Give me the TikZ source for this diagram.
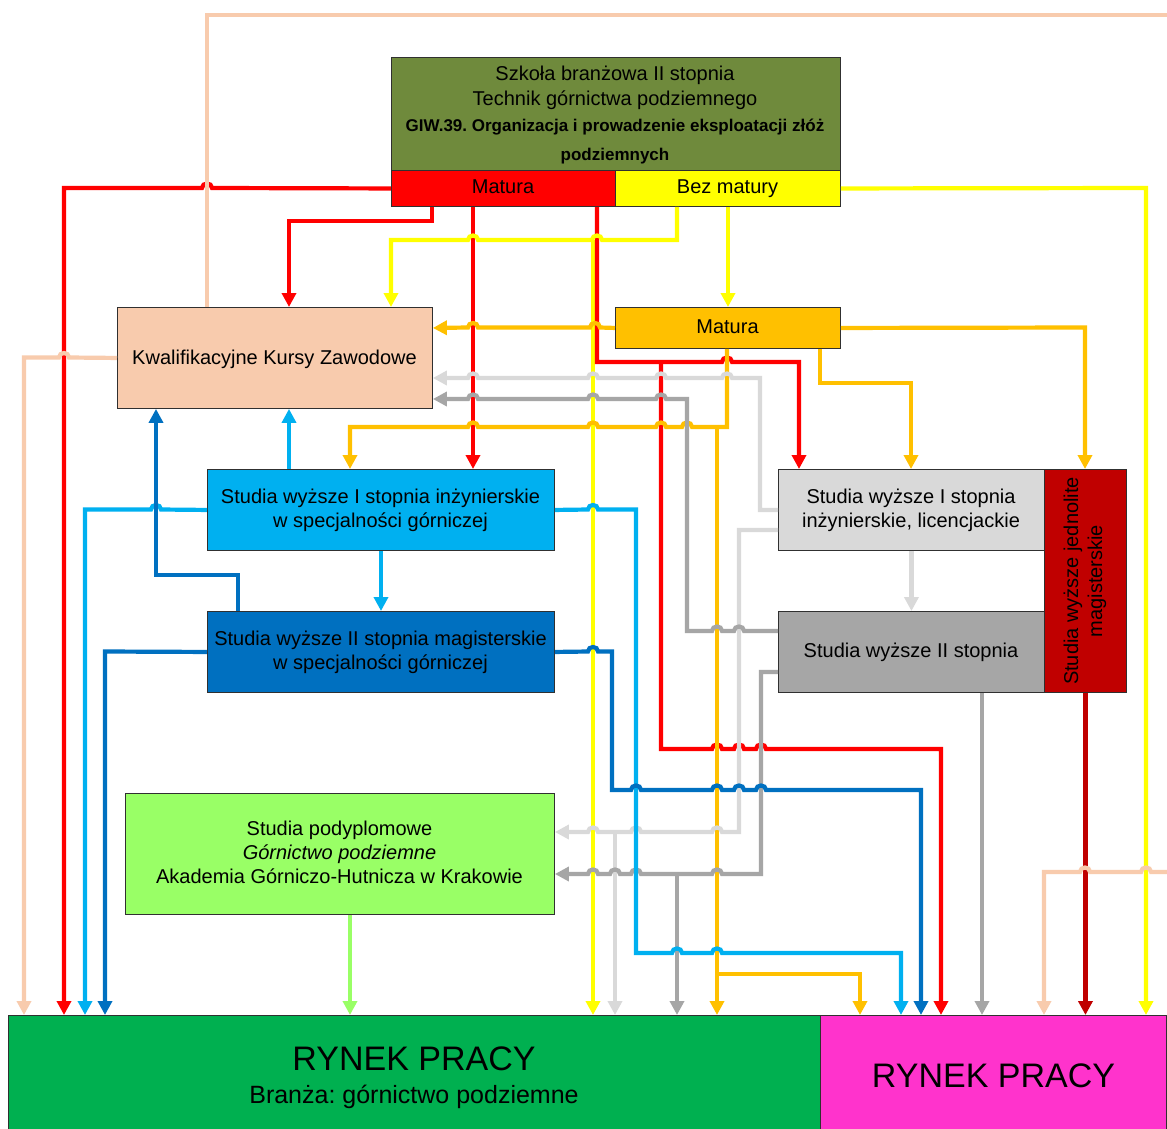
\documentclass[tikz,border=0pt]{standalone}
\usepackage{fontspec}
\setmainfont{Liberation Sans}
\usetikzlibrary{arrows.meta}
\frenchspacing
\definecolor{cOlive}{HTML}{6F8A3C}
\definecolor{cRed}{HTML}{FF0000}
\definecolor{cYel}{HTML}{FFFF00}
\definecolor{cOra}{HTML}{FFC000}
\definecolor{cPeach}{HTML}{F8CBAD}
\definecolor{cLB}{HTML}{00B0F0}
\definecolor{cDB}{HTML}{0070C0}
\definecolor{cLG}{HTML}{D9D9D9}
\definecolor{cG}{HTML}{A6A6A6}
\definecolor{cDR}{HTML}{C00000}
\definecolor{cLGr}{HTML}{99FF66}
\definecolor{cGr}{HTML}{00B050}
\definecolor{cMag}{HTML}{FF33CC}
\definecolor{cBord}{HTML}{303030}
\tikzset{
  box/.style={draw=cBord, line width=0.9pt, inner sep=0pt, anchor=north west},
  tx/.style={anchor=base, inner sep=0pt, font=\fontsize{20}{24}\selectfont},
  ln/.style={draw=#1, line width=4.2pt, -{Triangle[length=14pt,width=14pt]}},
  hl/.style 2 args={insert path={-- (#1+5,#2) .. controls (#1+5,#2-6) and (#1-5,#2-6) .. (#1-5,#2)}},
  hr/.style 2 args={insert path={-- (#1-5,#2) .. controls (#1-5,#2-6) and (#1+5,#2-6) .. (#1+5,#2)}},
}
\begin{document}
\frenchspacing
\begin{tikzpicture}[x=1pt,y=-1pt]
\useasboundingbox (0,0) rectangle (1167,1128);
\fill[white] (0,0) rectangle (1167,1128);
% boxes
\node[box,fill=cOlive,minimum width=449pt,minimum height=113pt] (szk) at (391,57) {};
\node[box,fill=cRed,minimum width=224pt,minimum height=36pt] (mat) at (391,170) {};
\node[box,fill=cYel,minimum width=225pt,minimum height=36pt] (bez) at (615,170) {};
\node[box,fill=cPeach,minimum width=315pt,minimum height=101pt] (kkz) at (117,307) {};
\node[box,fill=cOra,minimum width=225pt,minimum height=41pt] (mat2) at (615,307) {};
\node[box,fill=cLB,minimum width=347pt,minimum height=81pt] (s1g) at (207,469) {};
\node[box,fill=cDB,minimum width=347pt,minimum height=81pt] (s2g) at (207,611) {};
\node[box,fill=cLG,minimum width=266pt,minimum height=81pt] (s1l) at (778,469) {};
\node[box,fill=cG,minimum width=266pt,minimum height=81pt] (s2) at (778,611) {};
\node[box,fill=cDR,minimum width=82pt,minimum height=223pt] (jed) at (1044,469) {};
\node[box,fill=cLGr,minimum width=429pt,minimum height=121pt] (pod) at (125,793) {};
\node[box,fill=cGr,minimum width=812pt,minimum height=120pt] (ryn1) at (8,1015) {};
\node[box,fill=cMag,minimum width=346pt,minimum height=120pt] (ryn2) at (820,1015) {};
% yellow under red
\draw[ln=cYel] (593,240) -- (593,0 |- ryn1.north);
% red
\draw[ln=cRed] (mat.west) [hl={207}{188}] -- (64,188) -- (64,0 |- ryn1.north);
\draw[ln=cRed] (432,0 |- mat.south) -- (432,221) -- (289,221) -- (289,0 |- kkz.north);
\draw[ln=cRed] (473,0 |- mat.south) -- (473,0 |- s1g.north);
\draw[ln=cRed] (597,0 |- mat.south) -- (597,362) [hr={727}{362}] -- (799,362) -- (799,0 |- s1l.north);
\draw[ln=cRed] (661,362) -- (661,749) [hr={717}{749}] [hr={739}{749}] [hr={761}{749}] -- (941,749) -- (941,0 |- ryn2.north);
% yellow
\draw[ln=cYel] (bez.east) -- (1146,188) -- (1146,0 |- ryn2.north);
\draw[ln=cYel] (677,0 |- bez.south) -- (677,240) [hl={597}{240}] [hl={473}{240}] -- (391,240) -- (391,0 |- kkz.north);
\draw[ln=cYel] (728,0 |- bez.south) -- (728,0 |- mat2.north);
% orange
\draw[ln=cOra] (mat2.west) [hl={595}{327.5}] [hl={473}{327.5}] -- (kkz.east |- mat2.west);
\draw[ln=cOra] (mat2.east) -- (1085,327.5) -- (1085,0 |- jed.north);
\draw[ln=cOra] (820,0 |- mat2.south) -- (820,383) -- (911,383) -- (911,0 |- s1l.north);
\draw[ln=cOra] (727,0 |- mat2.south) -- (727,427) [hl={687}{427}] [hl={661}{427}] [hl={593}{427}] [hl={473}{427}] -- (350,427) -- (350,0 |- s1g.north);
\draw[ln=cOra] (717,427) -- (717,0 |- ryn1.north);
\draw[ln=cOra] (717,974) -- (860,974) -- (860,0 |- ryn2.north);
% light gray
\draw[ln=cLG] (s1l.west |- 0,510) -- (760,510) -- (760,378) [hl={727}{378}] [hl={661}{378}] [hl={593}{378}] [hl={473}{378}] -- (kkz.east |- 0,378);
\draw[ln=cLG] (s1l.west |- 0,530) -- (739,530) -- (739,832) [hl={717}{832}] [hl={636}{832}] [hl={593}{832}] -- (pod.east |- 0,832);
\draw[ln=cLG] (615,832) -- (615,0 |- ryn1.north);
\draw[ln=cLG] (s1l.south) -- (s2.north);
% gray
\draw[ln=cG] (s2.west |- 0,631) [hl={739}{631}] [hl={717}{631}] -- (687,631) -- (687,399) [hl={661}{399}] [hl={593}{399}] [hl={473}{399}] -- (kkz.east |- 0,399);
\draw[ln=cG] (s2.west |- 0,672) -- (761,672) -- (761,874) [hl={717}{874}] [hl={636}{874}] [hl={615}{874}] [hl={593}{874}] -- (pod.east |- 0,874);
\draw[ln=cG] (677,874) -- (677,0 |- ryn1.north);
\draw[ln=cG] (982,0 |- s2.south) -- (982,0 |- ryn2.north);
% dark red
\draw[ln=cDR] (jed.south) -- (jed.south |- ryn2.north);
% peach
\draw[ln=cPeach,-] (207,0 |- kkz.north) -- (207,15) -- (1170,15);
\draw[ln=cPeach] (kkz.west) [hl={64}{357.5}] -- (24,357.5) -- (24,0 |- ryn1.north);
\draw[ln=cPeach] (1170,872) [hl={1146}{872}] [hl={1085}{872}] -- (1044,872) -- (1044,0 |- ryn2.north);
% light blue
\draw[ln=cLB] (289,0 |- s1g.north) -- (289,0 |- kkz.south);
\draw[ln=cLB] (381,0 |- s1g.south) -- (381,0 |- s2g.north);
\draw[ln=cLB] (s1g.west) [hl={156}{509.5}] -- (85,509.5) -- (85,0 |- ryn1.north);
\draw[ln=cLB] (s1g.east) [hr={593}{509.5}] -- (636,509.5) -- (636,953) [hr={677}{953}] [hr={717}{953}] -- (901,953) -- (901,0 |- ryn2.north);
% dark blue
\draw[ln=cDB] (238,0 |- s2g.north) -- (238,575) -- (156,575) -- (156,0 |- kkz.south);
\draw[ln=cDB] (s2g.west) -- (105,651.5) -- (105,0 |- ryn1.north);
\draw[ln=cDB] (s2g.east) [hr={593}{651.5}] -- (612,651.5) -- (612,790) [hr={636}{790}] [hr={717}{790}] [hr={739}{790}] [hr={761}{790}] -- (921,790) -- (921,0 |- ryn2.north);
% light green
\draw[ln=cLGr] (350,0 |- pod.south) -- (350,0 |- ryn1.north);
% texts
\node[tx] (t1) at (615,80.7) {Szkoła branżowa II stopnia};
\node[tx] (t2) at (615,105) {Technik górnictwa podziemnego};
\node[tx,font=\fontsize{17}{20}\selectfont\bfseries] (t3) at (615,131.5) {GIW.39. Organizacja i prowadzenie eksploatacji złóż};
\node[tx,font=\fontsize{17}{20}\selectfont\bfseries] (t4) at (615,160) {podziemnych};
\node[tx] (t5) at (503,193) {Matura};
\node[tx] (t6) at (727.5,193) {Bez matury};
\node[tx] (t7) at (727.5,333.5) {Matura};
\node[tx] (t8) at (274.5,364) {Kwalifikacyjne Kursy Zawodowe};
\node[tx] (t9) at (380.5,503) {Studia wyższe I stopnia inżynierskie};
\node[tx] (t10) at (380.5,527) {w specjalności górniczej};
\node[tx] (t11) at (380.5,645) {Studia wyższe II stopnia magisterskie};
\node[tx] (t12) at (380.5,669) {w specjalności górniczej};
\node[tx] (t13) at (911,503) {Studia wyższe I stopnia};
\node[tx] (t14) at (911,527) {inżynierskie, licencjackie};
\node[tx] (t15) at (911,657) {Studia wyższe II stopnia};
\node[rotate=90, align=center, inner sep=0pt, font=\fontsize{20}{24}\selectfont] (t16) at (1085,581) {Studia wyższe jednolite\\magisterskie};
\node[tx] (t17) at (339.5,835) {Studia podyplomowe};
\node[tx] (t18) at (339.5,859) {\itshape Górnictwo podziemne};
\node[tx] (t19) at (339.5,883) {Akademia Górniczo-Hutnicza w Krakowie};
\node[tx,font=\fontsize{34}{40}\selectfont] (t20) at (414,1070) {RYNEK PRACY};
\node[tx,font=\fontsize{25}{30}\selectfont] (t21) at (414,1103) {Branża: górnictwo podziemne};
\node[tx,font=\fontsize{34}{40}\selectfont] (t22) at (993.5,1087) {RYNEK PRACY};
\end{tikzpicture}
\end{document}
